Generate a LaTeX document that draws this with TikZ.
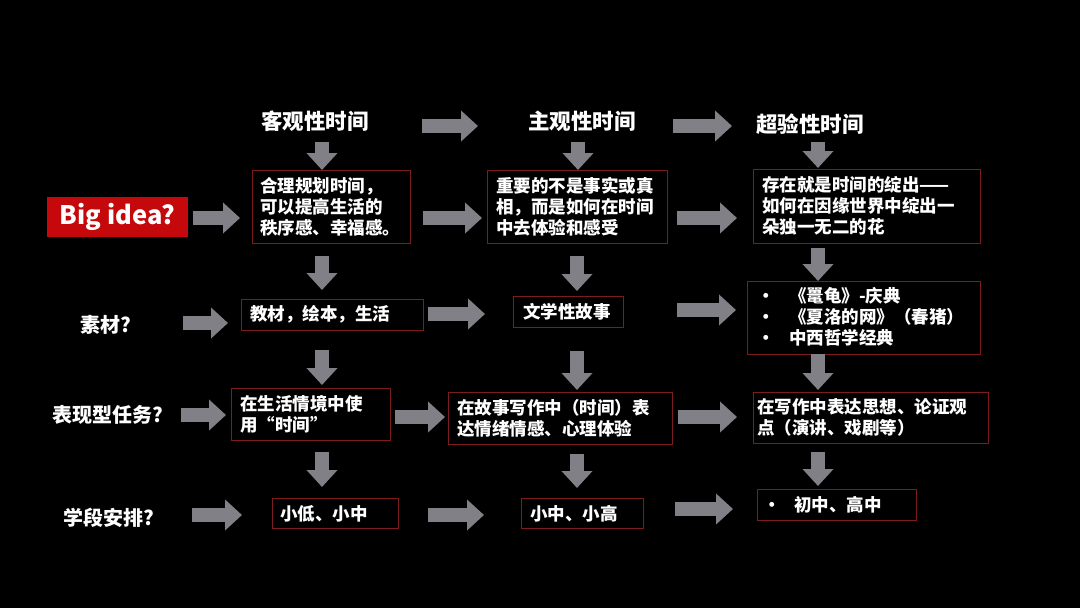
\documentclass[tikz,border=0pt]{standalone}
\usepackage{fontspec}
\setmainfont{Noto Sans CJK SC}
\usetikzlibrary{arrows.meta,fit}
\definecolor{arrgray}{RGB}{128,128,134}
\definecolor{boxred}{RGB}{125,28,28}
\definecolor{ideared}{RGB}{196,8,12}
\tikzset{
  blk/.style={line width=14pt, arrgray, -{Triangle[length=17pt,width=30pt]}},
  box/.style={draw=boxred, line width=1pt, fill=black, inner sep=0pt},
  txt/.style={text=white, font=\fontsize{17.5}{21}\selectfont\bfseries, align=left, inner sep=0pt, anchor=west},
  head/.style={text=white, font=\fontsize{21.5}{24}\selectfont\bfseries, inner sep=0pt},
  lab/.style={text=white, font=\fontsize{20}{24}\selectfont\bfseries, inner sep=0pt, anchor=west},
}
\newcommand\mybox[5]{\path (#2,#3) coordinate (#1nw) (#4,#5) coordinate (#1se);
  \node[box, fit=(#1nw)(#1se)] (#1) {};}
\begin{document}
\begin{tikzpicture}[x=1pt,y=-1pt]
\useasboundingbox[fill=black] (0,0) rectangle (1080,608);
% headers
\node[head] (h1) at (315,121) {客观性时间};
\node[head] (h2) at (582,121) {主观性时间};
\node[head] (h3) at (810,124) {超验性时间};
% row labels
\node[fill=ideared, minimum width=141pt, minimum height=40pt, inner sep=0pt, text=white, font=\fontsize{25.5}{28}\selectfont\bfseries] (idea) at (117.5,217) {Big idea?};
\node[lab] (l2) at (80,325) {素材?};
\node[lab] (l3) at (52,415) {表现型任务?};
\node[lab] (l4) at (63,518) {学段安排?};
% boxes
\mybox{b11}{252}{170}{410}{243}
\mybox{b12}{487}{170}{667}{243}
\mybox{b13}{753}{169}{980}{243}
\mybox{b21}{241}{299}{423}{330}
\mybox{b22}{513}{296}{623}{327}
\mybox{b23}{747}{281}{980}{354}
\mybox{b31}{231}{388}{390}{440}
\mybox{b32}{448}{392}{672}{444}
\mybox{b33}{753}{392}{988}{443}
\mybox{b41}{272}{498}{398}{528}
\mybox{b42}{521}{498}{643}{528}
\mybox{b43}{757}{489}{916}{520}
% texts
\node[txt] (t11) at (260,206.5) {合理规划时间，\\可以提高生活的\\秩序感、幸福感。};
\node[txt] (t12) at (496,206.5) {重要的不是事实或真\\相，而是如何在时间\\中去体验和感受};
\node[txt] (t13) at (762,205.5) {存在就是时间的绽出——\\如何在因缘世界中绽出一\\朵独一无二的花};
\node[txt] (t21) at (250,314) {教材，绘本，生活};
\node[txt] (t22) at (523,312) {文学性故事};
\node[txt] (t23) at (757,317) {\makebox[32pt][l]{•}《鼍龟》-庆典\\\makebox[32pt][l]{•}《夏洛的网》（春猪）\\\makebox[32pt][l]{•}中西哲学经典};
\node[txt] (t31) at (240,414) {在生活情境中使\\用“时间”};
\node[txt] (t32) at (457,418) {在故事写作中（时间）表\\达情绪情感、心理体验};
\node[txt] (t33) at (757,417) {在写作中表达思想、论证观\\点（演讲、戏剧等）};
\node[txt] (t41) at (280,513.5) {小低、小中};
\node[txt] (t42) at (530,513.5) {小中、小高};
\node[txt] (t43) at (763,505) {\makebox[31pt][l]{•}初中、高中};
% horizontal arrows
\draw[blk] (422,126) -- (478,126);
\draw[blk] (673,126) -- (732,126);
\draw[blk] (193,218) -- (240,218);
\draw[blk] (423,218) -- (482,218);
\draw[blk] (677,218) -- (737,218);
\draw[blk] (183,323) -- (228,323);
\draw[blk] (428,314) -- (485,314);
\draw[blk] (677,310) -- (736,310);
\draw[blk] (181,415) -- (226,415);
\draw[blk] (395,417) -- (445,417);
\draw[blk] (678,417) -- (737,417);
\draw[blk] (192,515) -- (242,515);
\draw[blk] (428,515) -- (484,515);
\draw[blk] (675,509) -- (733,509);
% vertical arrows
\draw[blk] (322,142) -- (322,170);
\draw[blk] (322,256) -- (322,290);
\draw[blk] (322,350) -- (322,385);
\draw[blk] (322,452) -- (322,487);
\draw[blk] (578,142) -- (578,170);
\draw[blk] (577,256) -- (577,291);
\draw[blk] (577,351) -- (577,390);
\draw[blk] (577,454) -- (577,488);
\draw[blk] (818,142) -- (818,168);
\draw[blk] (818,248) -- (818,281);
\draw[blk] (818,354) -- (818,390);
\draw[blk] (818,452) -- (818,486);
\end{tikzpicture}
\end{document}
